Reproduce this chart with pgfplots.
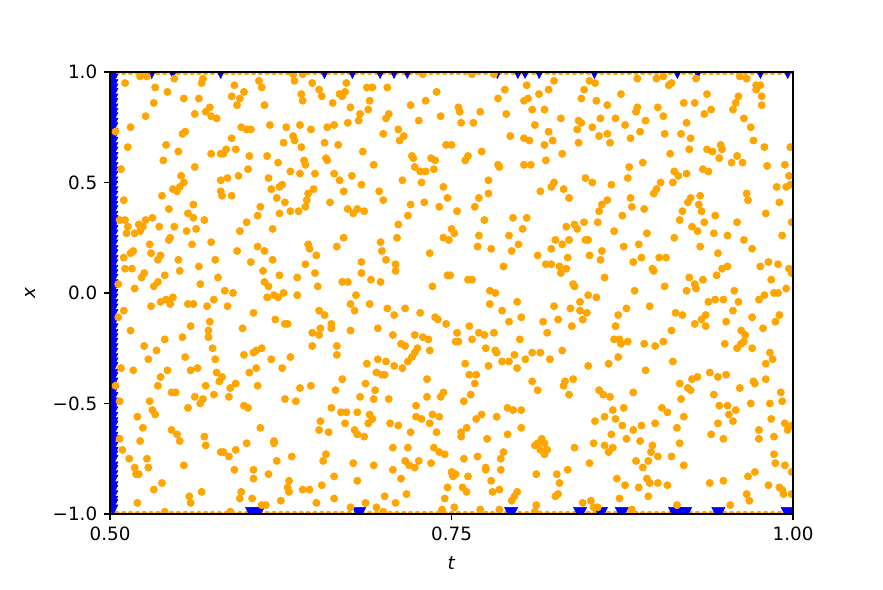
\documentclass[border=0pt]{standalone}
\usepackage{fontspec}
\setmainfont{DejaVu Sans}
\usepackage{pgfplots}
\usepackage{pgfplotstable}
\pgfplotsset{compat=1.18}
\definecolor{mplorange}{HTML}{FFA500}
\definecolor{mplblue}{HTML}{0000FF}

% downward triangle, like matplotlib's 'v'
\pgfdeclareplotmark{vtri}{%
  \pgfpathmoveto{\pgfqpoint{0pt}{-\pgfplotmarksize}}%
  \pgfpathlineto{\pgfqpoint{-\pgfplotmarksize}{\pgfplotmarksize}}%
  \pgfpathlineto{\pgfqpoint{\pgfplotmarksize}{\pgfplotmarksize}}%
  \pgfpathclose
  \pgfusepathqfillstroke
}

% interior collocation points
\pgfplotstableread{
t x
0.511 0.95
0.522 0.98
0.527 0.98
0.547 0.97
0.568 0.97
0.567 0.95
0.533 0.93
0.542 0.91
0.532 0.86
0.554 0.88
0.565 0.88
0.526 0.80
0.562 0.81
0.570 0.82
0.573 0.84
0.574 0.80
0.578 0.79
0.515 0.75
0.504 0.73
0.513 0.66
0.541 0.67
0.550 0.64
0.553 0.72
0.555 0.73
0.539 0.60
0.562 0.57
0.574 0.63
0.581 0.63
0.583 0.63
0.585 0.65
0.589 0.70
0.592 0.65
0.591 0.94
0.589 0.89
0.595 0.88
0.598 0.91
0.593 0.85
0.609 0.96
0.611 0.93
0.613 0.85
0.596 0.75
0.600 0.74
0.603 0.74
0.617 0.76
0.602 0.62
0.615 0.62
0.623 0.59
0.629 0.75
0.627 0.68
0.634 0.71
0.635 0.69
0.639 0.76
0.640 0.66
0.647 0.74
0.659 0.75
0.664 0.76
0.657 0.68
0.658 0.61
0.659 0.60
0.642 0.60
0.643 0.58
0.632 0.55
0.639 0.54
0.650 0.54
0.664 0.54
0.508 0.56
0.552 0.53
0.554 0.50
0.551 0.48
0.546 0.47
0.549 0.46
0.538 0.44
0.543 0.38
0.561 0.40
0.557 0.36
0.581 0.51
0.586 0.52
0.594 0.53
0.601 0.56
0.616 0.52
0.618 0.47
0.624 0.48
0.626 0.49
0.581 0.46
0.582 0.44
0.589 0.44
0.622 0.43
0.628 0.41
0.645 0.45
0.644 0.42
0.649 0.47
0.643 0.39
0.632 0.37
0.638 0.37
0.661 0.41
0.610 0.39
0.624 0.36
0.510 0.42
0.634 0.99
0.635 0.96
0.641 0.99
0.640 0.90
0.641 0.87
0.648 0.95
0.653 0.92
0.655 0.89
0.663 0.86
0.673 0.95
0.668 0.90
0.670 0.89
0.672 0.91
0.688 0.93
0.692 0.93
0.703 0.93
0.690 0.87
0.689 0.83
0.676 0.84
0.683 0.81
0.682 0.78
0.674 0.77
0.702 0.79
0.704 0.81
0.739 0.91
0.731 0.87
0.720 0.85
0.742 0.80
0.726 0.78
0.755 0.84
0.756 0.82
0.757 0.77
0.766 0.77
0.771 0.82
0.784 0.88
0.789 0.92
0.805 0.94
0.825 0.96
0.821 0.92
0.814 0.90
0.803 0.87
0.806 0.88
0.809 0.83
0.818 0.83
0.790 0.81
0.811 0.76
0.830 0.79
0.729 0.99
0.765 0.99
0.781 0.99
0.700 0.72
0.711 0.74
0.715 0.71
0.712 0.69
0.667 0.67
0.685 0.64
0.693 0.58
0.721 0.62
0.722 0.61
0.723 0.57
0.727 0.55
0.731 0.55
0.737 0.56
0.735 0.61
0.738 0.60
0.746 0.67
0.750 0.67
0.760 0.60
0.762 0.62
0.772 0.64
0.784 0.58
0.785 0.57
0.793 0.71
0.803 0.70
0.807 0.69
0.821 0.73
0.824 0.69
0.818 0.67
0.831 0.63
0.819 0.60
0.803 0.58
0.808 0.58
0.668 0.51
0.677 0.53
0.684 0.49
0.671 0.46
0.697 0.46
0.700 0.42
0.714 0.51
0.728 0.50
0.744 0.48
0.747 0.43
0.730 0.41
0.720 0.40
0.770 0.43
0.777 0.51
0.777 0.45
0.767 0.39
0.754 0.37
0.741 0.39
0.674 0.38
0.681 0.38
0.686 0.37
0.678 0.36
0.815 0.46
0.823 0.48
0.825 0.50
0.832 0.47
0.851 0.96
0.855 0.95
0.847 0.92
0.845 0.88
0.856 0.87
0.864 0.85
0.874 0.90
0.886 0.97
0.900 0.97
0.905 0.98
0.909 0.94
0.911 0.95
0.859 0.79
0.843 0.78
0.845 0.77
0.842 0.74
0.853 0.75
0.843 0.68
0.858 0.71
0.864 0.72
0.866 0.68
0.870 0.79
0.877 0.76
0.881 0.70
0.888 0.73
0.892 0.78
0.885 0.82
0.886 0.84
0.901 0.84
0.905 0.80
0.906 0.72
0.920 0.86
0.928 0.86
0.929 0.97
0.937 0.90
0.940 0.83
0.935 0.81
0.922 0.77
0.918 0.72
0.925 0.70
0.924 0.65
0.910 0.63
0.890 0.59
0.880 0.57
0.879 0.52
0.867 0.49
0.853 0.50
0.848 0.52
0.898 0.45
0.900 0.47
0.903 0.50
0.912 0.50
0.913 0.55
0.916 0.53
0.922 0.54
0.934 0.56
0.938 0.55
0.881 0.43
0.882 0.39
0.891 0.38
0.864 0.42
0.860 0.40
0.858 0.37
0.925 0.43
0.923 0.41
0.932 0.44
0.931 0.40
0.933 0.37
0.919 0.37
0.937 0.65
0.941 0.64
0.947 0.67
0.948 0.65
0.946 0.61
0.955 0.59
0.959 0.62
0.963 0.59
0.961 0.98
0.966 0.97
0.973 0.94
0.976 0.94
0.973 0.92
0.977 0.89
0.977 0.85
0.960 0.89
0.958 0.86
0.956 0.83
0.964 0.79
0.969 0.75
0.971 0.69
0.979 0.66
0.981 0.575
0.994 0.58
0.998 0.66
0.997 0.53
0.998 0.49
0.995 0.48
0.988 0.48
0.966 0.45
0.967 0.42
0.990 0.41
0.980 0.36
0.836 0.43
0.507 0.33
0.511 0.33
0.531 0.34
0.561 0.34
0.569 0.33
0.608 0.35
0.513 0.30
0.521 0.31
0.524 0.30
0.526 0.33
0.522 0.28
0.518 0.27
0.512 0.27
0.536 0.30
0.547 0.30
0.556 0.28
0.563 0.29
0.544 0.25
0.543 0.24
0.560 0.22
0.574 0.23
0.529 0.22
0.530 0.18
0.517 0.19
0.515 0.18
0.510 0.16
0.537 0.17
0.535 0.15
0.550 0.15
0.511 0.11
0.516 0.11
0.525 0.09
0.523 0.07
0.540 0.08
0.551 0.10
0.565 0.12
0.577 0.15
0.579 0.07
0.535 0.05
0.532 0.03
0.518 0.02
0.506 0.04
0.566 0.04
0.584 0.01
0.590 0.00
0.537 -0.04
0.541 -0.03
0.544 -0.05
0.546 -0.02
0.530 -0.06
0.557 -0.05
0.561 -0.05
0.571 -0.06
0.576 -0.03
0.586 -0.06
0.510 -0.08
0.506 -0.11
0.515 -0.17
0.540 -0.21
0.525 -0.24
0.534 -0.26
0.528 -0.30
0.553 -0.20
0.559 -0.15
0.573 -0.13
0.572 -0.17
0.572 -0.20
0.575 -0.25
0.577 -0.30
0.555 -0.29
0.597 -0.16
0.598 -0.28
0.605 -0.27
0.607 -0.26
0.611 -0.25
0.618 -0.30
0.605 -0.09
0.621 -0.12
0.628 -0.14
0.630 -0.14
0.600 0.32
0.595 0.28
0.608 0.21
0.593 0.19
0.603 0.14
0.613 0.19
0.619 0.15
0.619 0.29
0.612 0.10
0.613 0.05
0.616 0.03
0.624 0.08
0.615 -0.02
0.620 -0.01
0.623 -0.02
0.627 0.00
0.637 -0.01
0.637 0.07
0.643 0.13
0.645 0.22
0.646 0.20
0.651 0.17
0.650 0.09
0.652 0.03
0.666 0.21
0.653 -0.08
0.657 -0.10
0.662 -0.14
0.662 -0.16
0.654 -0.16
0.648 -0.18
0.653 -0.19
0.648 -0.24
0.666 -0.24
0.666 -0.28
0.632 -0.29
0.718 0.35
0.671 0.25
0.711 0.31
0.698 0.23
0.710 0.25
0.699 0.19
0.702 0.15
0.709 0.13
0.709 0.10
0.684 0.14
0.684 0.09
0.670 0.05
0.674 0.05
0.691 0.06
0.698 0.05
0.680 -0.01
0.676 -0.05
0.679 -0.08
0.690 -0.05
0.703 -0.07
0.708 -0.10
0.716 -0.07
0.727 -0.09
0.734 0.18
0.736 0.03
0.747 0.08
0.749 0.08
0.762 0.06
0.765 0.06
0.744 0.25
0.748 0.24
0.750 0.29
0.752 0.27
0.770 0.26
0.769 0.21
0.779 0.20
0.774 0.33
0.795 0.34
0.805 0.34
0.802 0.29
0.792 0.26
0.799 0.22
0.794 0.19
0.788 0.12
0.813 0.17
0.819 0.13
0.823 0.13
0.823 0.20
0.826 0.24
0.831 0.22
0.829 0.12
0.830 0.09
0.778 0.01
0.782 0.00
0.798 -0.04
0.778 -0.05
0.787 -0.08
0.792 -0.13
0.801 -0.11
0.738 -0.11
0.740 -0.12
0.746 -0.14
0.763 -0.15
0.770 -0.18
0.774 -0.19
0.765 -0.21
0.781 -0.18
0.754 -0.18
0.753 -0.22
0.755 -0.22
0.800 -0.21
0.775 -0.25
0.782 -0.26
0.783 -0.27
0.796 -0.28
0.804 -0.30
0.809 -0.27
0.815 -0.27
0.822 -0.30
0.831 -0.26
0.817 -0.13
0.825 -0.06
0.828 -0.12
0.820 -0.18
0.723 -0.19
0.729 -0.20
0.733 -0.21
0.725 -0.25
0.723 -0.27
0.721 -0.29
0.734 -0.26
0.676 -0.17
0.696 -0.16
0.707 -0.19
0.713 -0.23
0.716 -0.24
0.696 -0.30
0.702 -0.31
0.688 -0.32
0.718 -0.31
0.760 -0.32
0.787 -0.31
0.792 -0.31
0.834 0.30
0.840 0.31
0.842 0.29
0.847 0.32
0.857 0.32
0.875 0.35
0.869 0.28
0.893 0.27
0.836 0.24
0.848 0.24
0.850 0.24
0.860 0.19
0.851 0.17
0.859 0.15
0.835 0.16
0.834 0.11
0.876 0.21
0.887 0.22
0.883 0.14
0.889 0.16
0.902 0.16
0.907 0.16
0.897 0.11
0.898 0.10
0.862 0.07
0.917 0.33
0.926 0.30
0.930 0.28
0.935 0.32
0.943 0.35
0.959 0.32
0.913 0.25
0.942 0.27
0.952 0.26
0.964 0.24
0.970 0.20
0.932 0.21
0.945 0.18
0.992 0.26
0.999 0.32
0.976 0.12
0.982 0.14
0.989 0.13
0.997 0.11
0.999 0.09
0.984 0.06
0.995 0.02
0.986 0.00
0.989 0.00
0.975 -0.03
0.979 -0.01
0.924 0.07
0.934 0.06
0.944 0.08
0.948 0.11
0.952 0.12
0.928 0.04
0.929 0.02
0.922 0.01
0.906 0.03
0.884 0.01
0.839 0.04
0.840 0.03
0.850 -0.01
0.856 -0.02
0.844 -0.04
0.837 -0.07
0.844 -0.08
0.849 -0.09
0.846 -0.12
0.838 -0.15
0.872 -0.10
0.878 -0.07
0.895 -0.06
0.870 -0.15
0.938 -0.04
0.943 -0.03
0.949 -0.03
0.957 0.01
0.960 -0.04
0.956 -0.08
0.970 -0.11
0.951 -0.13
0.933 -0.12
0.936 -0.10
0.936 -0.15
0.928 -0.14
0.914 -0.09
0.919 -0.10
0.911 -0.17
0.905 -0.22
0.899 -0.24
0.891 -0.23
0.879 -0.22
0.873 -0.21
0.869 -0.21
0.874 -0.23
0.872 -0.29
0.865 -0.32
0.912 -0.31
0.962 -0.17
0.965 -0.19
0.978 -0.16
0.990 -0.10
0.987 -0.13
0.950 -0.23
0.962 -0.23
0.964 -0.22
0.959 -0.25
0.970 -0.25
0.983 -0.27
0.985 -0.30
0.980 -0.32
0.508 -0.34
0.517 -0.35
0.542 -0.35
0.559 -0.35
0.564 -0.34
0.578 -0.36
0.582 -0.38
0.580 -0.40
0.602 -0.36
0.607 -0.34
0.626 -0.34
0.537 -0.38
0.535 -0.42
0.545 -0.45
0.548 -0.45
0.529 -0.49
0.531 -0.53
0.533 -0.55
0.520 -0.56
0.524 -0.61
0.522 -0.67
0.509 -0.71
0.514 -0.75
0.518 -0.79
0.519 -0.82
0.521 -0.82
0.527 -0.75
0.528 -0.79
0.532 -0.89
0.538 -0.86
0.520 -0.95
0.545 -0.62
0.549 -0.64
0.551 -0.67
0.554 -0.78
0.557 -0.52
0.562 -0.47
0.566 -0.50
0.568 -0.48
0.570 -0.42
0.576 -0.46
0.588 -0.43
0.587 -0.47
0.592 -0.41
0.598 -0.51
0.601 -0.52
0.608 -0.42
0.569 -0.65
0.570 -0.69
0.581 -0.72
0.583 -0.72
0.587 -0.74
0.592 -0.71
0.600 -0.68
0.610 -0.61
0.620 -0.67
0.620 -0.68
0.622 -0.76
0.633 -0.74
0.591 -0.80
0.605 -0.80
0.605 -0.84
0.616 -0.82
0.631 -0.85
0.630 -0.88
0.631 -0.90
0.641 -0.89
0.646 -0.89
0.567 -0.90
0.558 -0.92
0.559 -0.95
0.596 -0.90
0.595 -0.93
0.604 -0.93
0.611 -0.96
0.614 -0.96
0.625 -0.94
0.651 -0.95
0.664 -0.93
0.655 -0.87
0.664 -0.83
0.628 -0.48
0.636 -0.49
0.639 -0.43
0.647 -0.42
0.665 -0.44
0.662 -0.52
0.654 -0.58
0.653 -0.62
0.660 -0.63
0.658 -0.73
0.656 -0.76
0.507 -0.49
0.507 -0.66
0.504 -0.42
0.540 -0.99
0.588 -0.99
0.708 -0.33
0.714 -0.34
0.777 -0.33
0.798 -0.34
0.695 -0.36
0.699 -0.37
0.701 -0.37
0.670 -0.39
0.687 -0.41
0.694 -0.44
0.683 -0.47
0.693 -0.48
0.704 -0.48
0.732 -0.39
0.732 -0.47
0.744 -0.45
0.742 -0.47
0.724 -0.51
0.669 -0.54
0.673 -0.54
0.681 -0.54
0.690 -0.55
0.692 -0.57
0.689 -0.59
0.672 -0.59
0.679 -0.62
0.681 -0.64
0.686 -0.65
0.705 -0.59
0.711 -0.60
0.724 -0.56
0.728 -0.57
0.736 -0.55
0.741 -0.56
0.734 -0.59
0.739 -0.63
0.720 -0.63
0.707 -0.70
0.718 -0.70
0.737 -0.70
0.741 -0.72
0.745 -0.73
0.763 -0.37
0.768 -0.37
0.767 -0.41
0.759 -0.49
0.764 -0.46
0.772 -0.55
0.768 -0.57
0.761 -0.61
0.757 -0.63
0.757 -0.65
0.776 -0.66
0.783 -0.56
0.791 -0.52
0.795 -0.53
0.801 -0.53
0.801 -0.61
0.791 -0.64
0.809 -0.40
0.813 -0.44
0.833 -0.40
0.832 -0.42
0.788 -0.72
0.786 -0.75
0.786 -0.80
0.775 -0.79
0.775 -0.80
0.769 -0.74
0.759 -0.75
0.762 -0.83
0.750 -0.81
0.753 -0.82
0.751 -0.83
0.758 -0.88
0.761 -0.90
0.747 -0.88
0.745 -0.93
0.752 -0.97
0.743 -0.98
0.701 -0.92
0.709 -0.95
0.687 -0.95
0.695 -0.97
0.676 -0.97
0.678 -0.77
0.681 -0.85
0.693 -0.78
0.707 -0.80
0.713 -0.84
0.716 -0.76
0.719 -0.78
0.723 -0.79
0.726 -0.76
0.735 -0.77
0.717 -0.91
0.779 -0.85
0.780 -0.90
0.785 -0.89
0.798 -0.90
0.796 -0.92
0.794 -0.94
0.812 -0.96
0.812 -0.82
0.811 -0.69
0.813 -0.68
0.816 -0.66
0.818 -0.68
0.815 -0.71
0.818 -0.73
0.820 -0.71
0.827 -0.82
0.829 -0.86
0.828 -0.91
0.826 -0.92
0.785 -0.98
0.771 -0.98
0.811 -0.99
0.700 -0.99
0.850 -0.33
0.892 -0.35
0.939 -0.36
0.945 -0.38
0.951 -0.37
0.926 -0.39
0.930 -0.38
0.980 -0.39
0.971 -0.40
0.972 -0.41
0.961 -0.43
0.991 -0.45
0.992 -0.49
0.983 -0.50
0.969 -0.50
0.942 -0.46
0.946 -0.51
0.952 -0.51
0.958 -0.53
0.953 -0.55
0.956 -0.58
0.945 -0.59
0.940 -0.64
0.949 -0.66
0.923 -0.43
0.925 -0.44
0.917 -0.41
0.918 -0.48
0.904 -0.52
0.908 -0.54
0.920 -0.56
0.899 -0.59
0.915 -0.61
0.917 -0.68
0.911 -0.74
0.901 -0.74
0.897 -0.69
0.896 -0.72
0.894 -0.76
0.890 -0.79
0.885 -0.76
0.888 -0.67
0.889 -0.60
0.883 -0.62
0.876 -0.52
0.878 -0.66
0.875 -0.60
0.870 -0.57
0.868 -0.53
0.862 -0.56
0.855 -0.58
0.867 -0.64
0.862 -0.69
0.865 -0.72
0.868 -0.70
0.854 -0.68
0.851 -0.77
0.840 -0.70
0.835 -0.80
0.836 -0.46
0.839 -0.39
0.858 -0.44
0.861 -0.46
0.866 -0.47
0.883 -0.45
0.920 -0.78
0.871 -0.84
0.877 -0.87
0.887 -0.88
0.893 -0.84
0.895 -0.86
0.901 -0.86
0.908 -0.87
0.894 -0.92
0.873 -0.93
0.846 -0.95
0.852 -0.94
0.854 -0.97
0.857 -0.97
0.915 -0.96
0.939 -0.86
0.949 -0.85
0.954 -0.96
0.967 -0.83
0.972 -0.81
0.966 -0.91
0.968 -0.94
0.982 -0.87
0.990 -0.88
0.992 -0.89
0.993 -0.91
0.999 -0.91
0.994 -0.78
0.987 -0.77
0.986 -0.73
0.986 -0.65
0.975 -0.66
0.975 -0.62
0.984 -0.57
0.994 -0.59
0.996 -0.62
0.999 -0.60
0.999 -0.81
0.882 -0.98
}\interior

% boundary points on x = 1 and x = -1
\pgfplotstableread{
t xtop xbot
0.500 1 -1
0.505 1 -1
0.510 1 -1
0.515 1 -1
0.520 1 -1
0.525 1 -1
0.530 1 -1
0.535 1 -1
0.540 1 -1
0.545 1 -1
0.550 1 -1
0.555 1 -1
0.560 1 -1
0.565 1 -1
0.570 1 -1
0.575 1 -1
0.580 1 -1
0.585 1 -1
0.590 1 -1
0.595 1 -1
0.600 1 -1
0.605 1 -1
0.610 1 -1
0.615 1 -1
0.620 1 -1
0.625 1 -1
0.630 1 -1
0.635 1 -1
0.640 1 -1
0.645 1 -1
0.650 1 -1
0.655 1 -1
0.660 1 -1
0.665 1 -1
0.670 1 -1
0.675 1 -1
0.680 1 -1
0.685 1 -1
0.690 1 -1
0.695 1 -1
0.700 1 -1
0.705 1 -1
0.710 1 -1
0.715 1 -1
0.720 1 -1
0.725 1 -1
0.730 1 -1
0.735 1 -1
0.740 1 -1
0.745 1 -1
0.750 1 -1
0.755 1 -1
0.760 1 -1
0.765 1 -1
0.770 1 -1
0.775 1 -1
0.780 1 -1
0.785 1 -1
0.790 1 -1
0.795 1 -1
0.800 1 -1
0.805 1 -1
0.810 1 -1
0.815 1 -1
0.820 1 -1
0.825 1 -1
0.830 1 -1
0.835 1 -1
0.840 1 -1
0.845 1 -1
0.850 1 -1
0.855 1 -1
0.860 1 -1
0.865 1 -1
0.870 1 -1
0.875 1 -1
0.880 1 -1
0.885 1 -1
0.890 1 -1
0.895 1 -1
0.900 1 -1
0.905 1 -1
0.910 1 -1
0.915 1 -1
0.920 1 -1
0.925 1 -1
0.930 1 -1
0.935 1 -1
0.940 1 -1
0.945 1 -1
0.950 1 -1
0.955 1 -1
0.960 1 -1
0.965 1 -1
0.970 1 -1
0.975 1 -1
0.980 1 -1
0.985 1 -1
0.990 1 -1
0.995 1 -1
1.000 1 -1
}\rows

% initial-condition points at t = 0.5
\pgfplotstableread{
t x
0.5 -0.995
0.5 -0.97
0.5 -0.955
0.5 -0.93
0.5 -0.905
0.5 -0.89
0.5 -0.86
0.5 -0.84
0.5 -0.815
0.5 -0.80
0.5 -0.77
0.5 -0.75
0.5 -0.735
0.5 -0.71
0.5 -0.68
0.5 -0.665
0.5 -0.64
0.5 -0.615
0.5 -0.60
0.5 -0.575
0.5 -0.55
0.5 -0.53
0.5 -0.51
0.5 -0.485
0.5 -0.46
0.5 -0.445
0.5 -0.42
0.5 -0.395
0.5 -0.38
0.5 -0.35
0.5 -0.33
0.5 -0.31
0.5 -0.285
0.5 -0.265
0.5 -0.24
0.5 -0.22
0.5 -0.20
0.5 -0.175
0.5 -0.15
0.5 -0.135
0.5 -0.11
0.5 -0.085
0.5 -0.065
0.5 -0.04
0.5 -0.02
0.5 0.005
0.5 0.025
0.5 0.05
0.5 0.07
0.5 0.09
0.5 0.115
0.5 0.135
0.5 0.16
0.5 0.18
0.5 0.205
0.5 0.225
0.5 0.25
0.5 0.27
0.5 0.29
0.5 0.315
0.5 0.335
0.5 0.36
0.5 0.38
0.5 0.40
0.5 0.425
0.5 0.445
0.5 0.47
0.5 0.49
0.5 0.515
0.5 0.535
0.5 0.555
0.5 0.58
0.5 0.60
0.5 0.625
0.5 0.645
0.5 0.67
0.5 0.69
0.5 0.71
0.5 0.735
0.5 0.755
0.5 0.78
0.5 0.80
0.5 0.82
0.5 0.845
0.5 0.865
0.5 0.89
0.5 0.91
0.5 0.93
0.5 0.955
0.5 0.975
0.5 0.995
}\initial

% boundary points at x = 1 (top) and x = -1 (bottom)
\pgfplotstableread{
t x
0.5305 1
0.5459 1
0.5810 1
0.6569 1
0.6774 1
0.6977 1
0.7079 1
0.7176 1
0.7835 1
0.7985 1
0.8038 1
0.8141 1
0.8545 1
0.9153 1
0.9302 1
0.9761 1
0.9961 1
0.6040 -1
0.6080 -1
0.6823 -1
0.7936 -1
0.8441 -1
0.8594 -1
0.8746 -1
0.9136 -1
0.9173 -1
0.9210 -1
0.9453 -1
0.9961 -1
}\edge

\begin{document}
\begin{tikzpicture}
\begin{axis}[
  scale only axis,
  width=372.9pt, height=241.3pt,
  xmin=0.5, xmax=1.0, ymin=-1, ymax=1,
  xtick={0.5,0.75,1}, xticklabels={0.50,0.75,1.00},
  ytick={-1,-0.5,0,0.5,1}, yticklabels={−1.0,−0.5,0.0,0.5,1.0},
  tick align=outside, major tick length=3.5pt,
  tick style={black, line width=0.8pt},
  xtick pos=bottom, ytick pos=left,
  axis line style={line width=0.8pt},
  tick label style={font=\fontsize{10}{12}\selectfont},
  every axis x label/.style={at={(axis description cs:0.5,0)}, yshift=-26.8pt, anchor=center},
  every axis y label/.style={at={(axis description cs:0,0.5)}, xshift=-43.7pt, rotate=90, anchor=center},
  label style={font=\fontsize{10}{12}\selectfont},
  xlabel={\textit{t}}, ylabel={\textit{x}},
  clip marker paths=true,
  axis on top,
]
  \addplot[only marks, mark=*, mark size=1.5pt, mplorange,
           mark options={draw=mplorange, fill=mplorange}]
    table[x=t, y=xtop] {\rows};
  \addplot[only marks, mark=*, mark size=1.5pt, mplorange,
           mark options={draw=mplorange, fill=mplorange}]
    table[x=t, y=xbot] {\rows};
  \addplot[only marks, mark=vtri, mark size=4.3pt, mplblue,
           mark options={draw=mplblue, fill=mplblue, line width=0.3pt}]
    table[x=t, y=x] {\initial};
  \addplot[only marks, mark=vtri, mark size=3.55pt, mplblue,
           mark options={draw=mplblue, fill=mplblue, line width=0.3pt}]
    table[x=t, y=x] {\edge};
  \addplot[only marks, mark=*, mark size=1.95pt, mplorange,
           mark options={draw=mplorange, fill=mplorange}]
    table[x=t, y=x] {\interior};
  \coordinate (ll) at (rel axis cs:0,0);
  \coordinate (ur) at (rel axis cs:1,1);
\end{axis}
\path ([shift={(-60.1pt,-41pt)}]ll) rectangle ([shift={(49.1pt,39.3pt)}]ur);
\end{tikzpicture}
\end{document}
